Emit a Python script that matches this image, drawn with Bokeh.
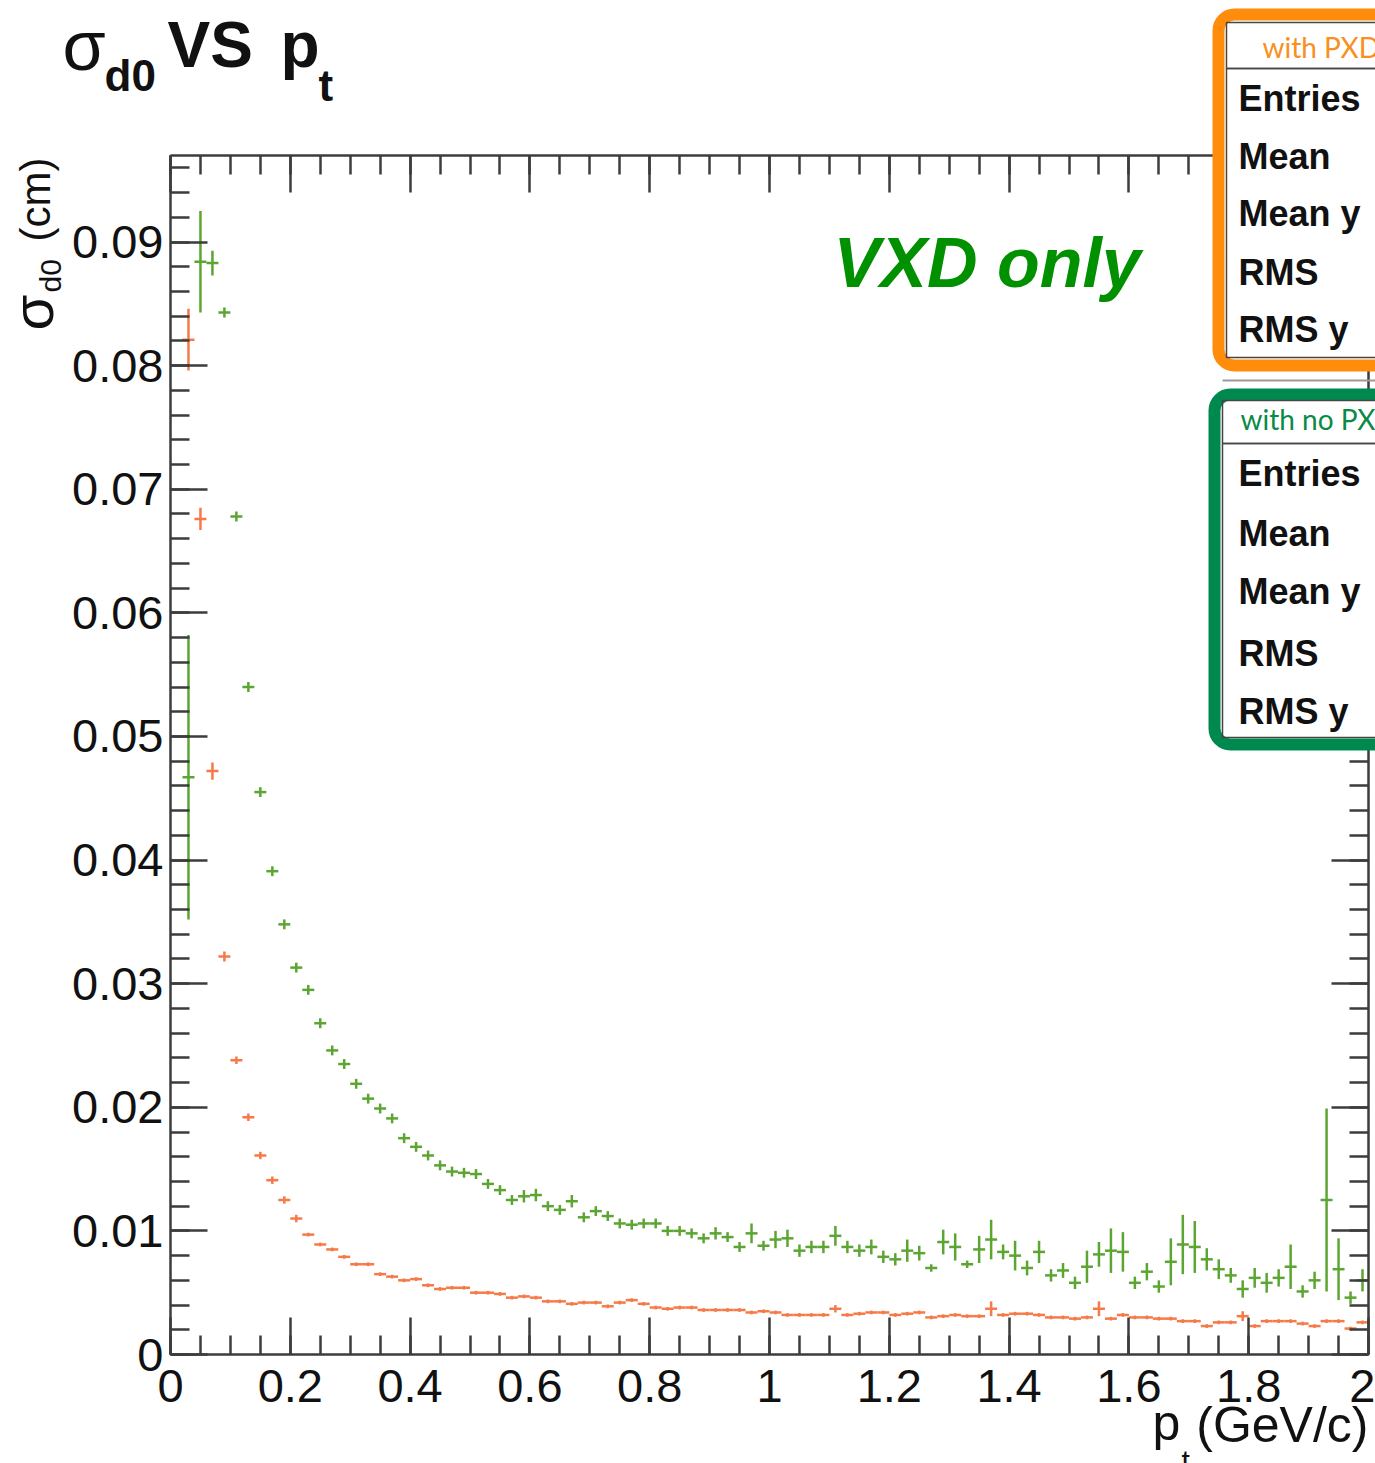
import math
from bokeh.plotting import figure
from bokeh.models import (LinearAxis, FixedTicker, CustomJSTickFormatter, Label,
                          BoxAnnotation, ColumnDataSource, Range1d)
from bokeh.embed import file_html
from bokeh.resources import INLINE

# ---------------- data ----------------
pt_bins = [0.03, 0.05, 0.07, 0.09, 0.11, 0.13, 0.15, 0.17, 0.19, 0.21,
           0.23, 0.25, 0.27, 0.29, 0.31, 0.33, 0.35, 0.37, 0.39, 0.41,
           0.43, 0.45, 0.47, 0.49, 0.51, 0.53, 0.55, 0.57, 0.59, 0.61,
           0.63, 0.65, 0.67, 0.69, 0.71, 0.73, 0.75, 0.77, 0.79, 0.81,
           0.83, 0.85, 0.87, 0.89, 0.91, 0.93, 0.95, 0.97, 0.99, 1.01,
           1.03, 1.05, 1.07, 1.09, 1.11, 1.13, 1.15, 1.17, 1.19, 1.21,
           1.23, 1.25, 1.27, 1.29, 1.31, 1.33, 1.35, 1.37, 1.39, 1.41,
           1.43, 1.45, 1.47, 1.49, 1.51, 1.53, 1.55, 1.57, 1.59, 1.61,
           1.63, 1.65, 1.67, 1.69, 1.71, 1.73, 1.75, 1.77, 1.79, 1.81,
           1.83, 1.85, 1.87, 1.89, 1.91, 1.93, 1.95, 1.97, 1.99]
bin_half_width = 0.01

# VXD only, with no PXD (green)
sigma_nopxd = [0.0467, 0.0884, 0.0883, 0.0843, 0.0678, 0.0540, 0.0455, 0.0391, 0.0348, 0.0313,
               0.0295, 0.0268, 0.0246, 0.0235, 0.0219, 0.0207, 0.0199, 0.0191, 0.0175, 0.0168,
               0.0161, 0.0153, 0.0148, 0.0147, 0.0146, 0.0138, 0.0133, 0.0125, 0.0128, 0.0129,
               0.0120, 0.0117, 0.0124, 0.0111, 0.0116, 0.0112, 0.0106, 0.0105, 0.0106, 0.0106,
               0.0100, 0.0100, 0.0098, 0.0094, 0.0098, 0.0095, 0.0087, 0.0098, 0.0088, 0.0093,
               0.0094, 0.0084, 0.0087, 0.0087, 0.0096, 0.0087, 0.0084, 0.0087, 0.0079, 0.0077,
               0.0084, 0.0082, 0.0070, 0.0091, 0.0087, 0.0073, 0.0085, 0.0093, 0.0083, 0.0080,
               0.0070, 0.0083, 0.0064, 0.0068, 0.0058, 0.0071, 0.0081, 0.0084, 0.0083, 0.0058,
               0.0067, 0.0055, 0.0075, 0.0089, 0.0087, 0.0077, 0.0069, 0.0064, 0.0053, 0.0062,
               0.0058, 0.0062, 0.0071, 0.0051, 0.0060, 0.0125, 0.0069, 0.0046, 0.0060]
err_nopxd = [0.0115, 0.0041, 0.0010, 0.0004, 0.0004, 0.0004, 0.0004, 0.0004, 0.0004, 0.0004,
             0.0004, 0.0004, 0.0004, 0.0004, 0.0004, 0.0004, 0.0004, 0.0004, 0.0004, 0.0004,
             0.0004, 0.0004, 0.0004, 0.0004, 0.0004, 0.0004, 0.0004, 0.0004, 0.0005, 0.0005,
             0.0004, 0.0004, 0.0005, 0.0004, 0.0004, 0.0004, 0.0004, 0.0004, 0.0004, 0.0004,
             0.0004, 0.0004, 0.0004, 0.0004, 0.0005, 0.0004, 0.0004, 0.0008, 0.0004, 0.0007,
             0.0007, 0.0005, 0.0005, 0.0005, 0.0008, 0.0005, 0.0005, 0.0006, 0.0005, 0.0005,
             0.0009, 0.0006, 0.0003, 0.0010, 0.0011, 0.0003, 0.0011, 0.0016, 0.0006, 0.0012,
             0.0006, 0.0009, 0.0005, 0.0006, 0.0005, 0.0013, 0.0010, 0.0018, 0.0016, 0.0005,
             0.0007, 0.0005, 0.0019, 0.0024, 0.0021, 0.0009, 0.0008, 0.0006, 0.0007, 0.0008,
             0.0008, 0.0007, 0.0018, 0.0005, 0.0007, 0.0074, 0.0025, 0.0005, 0.0009]

# with PXD (orange)
sigma_pxd = [0.0821, 0.0676, 0.0472, 0.0322, 0.0238, 0.0192, 0.0161, 0.0141, 0.0125, 0.0110,
             0.0097, 0.0089, 0.0085, 0.0079, 0.0073, 0.0073, 0.0065, 0.0063, 0.0060, 0.0061,
             0.0056, 0.0053, 0.0054, 0.0054, 0.0050, 0.0050, 0.0049, 0.0046, 0.0047, 0.0046,
             0.0043, 0.0043, 0.0041, 0.0042, 0.0042, 0.0039, 0.0042, 0.0044, 0.0041, 0.0038,
             0.0037, 0.0038, 0.0038, 0.0036, 0.0036, 0.0036, 0.0036, 0.0034, 0.0035, 0.0034,
             0.0032, 0.0032, 0.0032, 0.0032, 0.0037, 0.0032, 0.0033, 0.0034, 0.0034, 0.0032,
             0.0033, 0.0034, 0.0030, 0.0031, 0.0032, 0.0031, 0.0031, 0.0037, 0.0032, 0.0033,
             0.0033, 0.0032, 0.0030, 0.0030, 0.0029, 0.0030, 0.0037, 0.0029, 0.0032, 0.0030,
             0.0030, 0.0029, 0.0029, 0.0027, 0.0027, 0.0023, 0.0026, 0.0026, 0.0031, 0.0023,
             0.0027, 0.0027, 0.0027, 0.0025, 0.0023, 0.0027, 0.0027, 0.0021, 0.0026]
err_pxd = [0.0025, 0.0009, 0.0007, 0.0004, 0.0003, 0.0003, 0.0003, 0.0003, 0.0003, 0.0003,
           0.00015, 0.00015, 0.00015, 0.00015, 0.00015, 0.00015, 0.00015, 0.00015, 0.00015, 0.00015,
           0.00015, 0.00015, 0.00015, 0.00015, 0.00015, 0.00015, 0.00015, 0.00015, 0.00015, 0.00015,
           0.00015, 0.00015, 0.00015, 0.00015, 0.00015, 0.00015, 0.00015, 0.00015, 0.00015, 0.00015,
           0.00015, 0.00015, 0.00015, 0.00015, 0.00015, 0.00015, 0.00015, 0.00015, 0.00015, 0.00015,
           0.00015, 0.00015, 0.00015, 0.00015, 0.0003, 0.00015, 0.00015, 0.00015, 0.00015, 0.00015,
           0.00015, 0.00015, 0.00015, 0.00015, 0.00015, 0.00015, 0.00015, 0.0006, 0.00015, 0.00015,
           0.00015, 0.00015, 0.00015, 0.00015, 0.00015, 0.00015, 0.0006, 0.00015, 0.00015, 0.00015,
           0.00015, 0.00015, 0.00015, 0.00015, 0.00015, 0.00015, 0.00015, 0.00015, 0.0004, 0.00015,
           0.00015, 0.00015, 0.00015, 0.00015, 0.00015, 0.00015, 0.00015, 0.00015, 0.00015]

x_major = [0, 0.2, 0.4, 0.6, 0.8, 1.0, 1.2, 1.4, 1.6, 1.8, 2.0]
y_major = [0, 0.01, 0.02, 0.03, 0.04, 0.05, 0.06, 0.07, 0.08, 0.09]
stat_rows = ["Entries", "Mean", "Mean y", "RMS", "RMS y"]

# ---------------- layout ----------------
W, H = 1375, 1463
FL, FR, FT, FB = 170, 1368, 155, 1354      # plot-area edges in canvas pixels
XMIN, XMAX, YMIN, YMAX = 0.0, 2.0, 0.0, 0.097
SX = (FR - FL) / (XMAX - XMIN)
SY = (FB - FT) / (YMAX - YMIN)

GREEN = "#5ca532"
ORANGE = "#f57a48"
AXC = "#3c3c3c"

# the frame covers the whole canvas; axes are pinned at the plot-area edges
p = figure(width=W, height=H, output_backend="svg", toolbar_location=None,
           x_range=Range1d(XMIN - FL / SX, XMIN + (W - FL) / SX),
           y_range=Range1d(YMIN - (H - FB) / SY, YMIN + FB / SY),
           min_border=0, x_axis_location=None, y_axis_location=None)
p.title.visible = False
p.outline_line_color = None
p.grid.visible = False
p.background_fill_color = "white"
p.border_fill_color = "white"

x_minor = [round(0.05 * i, 2) for i in range(0, 41)]
y_minor = [round(0.002 * i, 3) for i in range(0, 49)]

xfmt = CustomJSTickFormatter(code="""
  if (Math.abs(tick - Math.round(tick)) < 1e-6) return Math.round(tick).toString();
  return tick.toFixed(1);
""")
yfmt = CustomJSTickFormatter(code="""
  if (Math.abs(tick) < 1e-9) return "0";
  return tick.toFixed(2);
""")
blank = CustomJSTickFormatter(code="return '';")


def style(ax, show_labels, standoff):
    ax.axis_line_color = AXC
    ax.axis_line_width = 2.5
    ax.major_tick_line_color = AXC
    ax.major_tick_line_width = 2.5
    ax.minor_tick_line_color = AXC
    ax.minor_tick_line_width = 2.5
    ax.major_tick_in = 37
    ax.major_tick_out = 0
    ax.minor_tick_in = 19
    ax.minor_tick_out = 0
    ax.major_label_standoff = standoff
    if show_labels:
        ax.major_label_text_font = "Liberation Sans"
        ax.major_label_text_font_size = "47px"
        ax.major_label_text_color = "#111111"
    else:
        ax.major_label_text_font_size = "0px"


xb = LinearAxis(ticker=FixedTicker(ticks=x_major, minor_ticks=x_minor), formatter=xfmt,
                fixed_location=YMIN, bounds=(XMIN, XMAX))
style(xb, True, 15)
p.add_layout(xb, "below")
xt = LinearAxis(ticker=FixedTicker(ticks=x_major, minor_ticks=x_minor), formatter=blank,
                fixed_location=YMAX, bounds=(XMIN, XMAX))
style(xt, False, 0)
p.add_layout(xt, "above")
yl = LinearAxis(ticker=FixedTicker(ticks=y_major, minor_ticks=y_minor), formatter=yfmt,
                fixed_location=XMIN, bounds=(YMIN, YMAX))
style(yl, True, 7)
p.add_layout(yl, "left")
yr = LinearAxis(ticker=FixedTicker(ticks=y_major, minor_ticks=y_minor), formatter=blank,
                fixed_location=XMAX, bounds=(YMIN, YMAX))
style(yr, False, 0)
p.add_layout(yr, "right")


def series(yv, ev, color):
    src = ColumnDataSource(dict(
        x=pt_bins, y=yv,
        lo=[a - b for a, b in zip(yv, ev)], hi=[a + b for a, b in zip(yv, ev)],
        x0=[a - bin_half_width for a in pt_bins], x1=[a + bin_half_width for a in pt_bins]))
    p.segment(x0="x", y0="lo", x1="x", y1="hi", source=src, line_color=color, line_width=2.5)
    p.segment(x0="x0", y0="y", x1="x1", y1="y", source=src, line_color=color, line_width=2.5)


series(sigma_nopxd, err_nopxd, GREEN)
series(sigma_pxd, err_pxd, ORANGE)


# ---------------- annotations (canvas px from top-left -> screen units) ----------------
def lab(text, X, Y, size, style="normal", color="#111111", align="left",
        angle=0.0, font="Liberation Sans"):
    # (X, Y) = start of the text's alphabetic baseline in canvas pixels
    if angle == 0:
        Y = Y - 0.4 * size
    else:
        X = X - 0.4 * size
    p.add_layout(Label(x=X, y=H - Y, x_units="screen", y_units="screen",
                       text=text, text_font=font, text_font_size=f"{size}px",
                       text_font_style=style, text_color=color, text_align=align,
                       text_baseline="alphabetic", angle=angle))


def box(L, T, R, B, line_color, line_width, fill="white", radius=0, fill_alpha=1.0):
    p.add_layout(BoxAnnotation(left=L, right=R, top=H - T, bottom=H - B,
                               left_units="screen", right_units="screen",
                               top_units="screen", bottom_units="screen",
                               line_color=line_color, line_width=line_width, line_alpha=1.0,
                               fill_color=fill, fill_alpha=fill_alpha,
                               border_radius=radius, level="annotation"))


# title
lab("σ", 62, 73, 70)
lab("d0", 104, 93, 44, "bold")
lab("VS", 167, 70, 64, "bold")
lab("p", 280, 70, 64, "bold")
lab("t", 318, 103, 44, "bold")

# y-axis label (rotated)
lab("σ", 55, 330, 58, angle=math.pi / 2)
lab("d0", 62, 292, 30, angle=math.pi / 2)
lab("(cm)", 52, 241, 42, angle=math.pi / 2)

# x-axis label
lab("p", 1152, 1442, 50)
lab("t", 1181, 1472, 30)
lab("(GeV/c)", 1368, 1444, 50, align="right")

# VXD only
lab("VXD only", 833, 290, 70, "bold italic", color="#009000")

# stats boxes
ORANGE_BOX = "#ff8c0a"
GREEN_BOX = "#00894e"
box(1218, 14, 1440, 365, ORANGE_BOX, 12, radius=16)
box(1226, 22, 1440, 68, "#444444", 1.5, fill=None, fill_alpha=0)
box(1226, 68, 1440, 357, "#444444", 1.5, fill=None, fill_alpha=0)
box(1222, 379, 1440, 381, None, 0, fill="#9a9a9a")
box(1214, 394, 1440, 744, GREEN_BOX, 12, radius=16)
box(1222, 400, 1440, 443, "#444444", 1.5, fill=None, fill_alpha=0)
box(1222, 443, 1440, 737, "#444444", 1.5, fill=None, fill_alpha=0)

lab("with PXD", 1262, 58, 28, color="#f7901e", font="Lato")
lab("with no PXD", 1240, 430, 28, color="#0a8a48", font="Lato")

for txt, yb in zip(stat_rows, [112, 170, 227, 286, 343]):
    lab(txt, 1238, yb, 36, "bold")
for txt, yb in zip(stat_rows, [487, 547, 605, 667, 725]):
    lab(txt, 1238, yb, 36, "bold")

open("out.html", "w").write(file_html(p, INLINE))
